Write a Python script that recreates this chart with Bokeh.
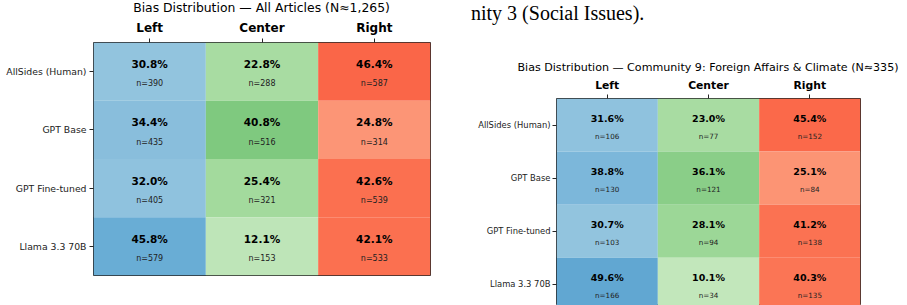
from bokeh.plotting import figure
from bokeh.layouts import row, column
from bokeh.models import ColumnDataSource, Range1d, FixedTicker, Div
from bokeh.palettes import Blues256, Greens256, Reds256
from bokeh.transform import linear_cmap
from bokeh.core.properties import value
from bokeh.embed import file_html
from bokeh.resources import INLINE

# ---------------- data ----------------
models = ["AllSides (Human)", "GPT Base", "GPT Fine-tuned", "Llama 3.3 70B"]
columns = ["Left", "Center", "Right"]

all_left_pct = [30.8, 34.4, 32.0, 45.8]
all_center_pct = [22.8, 40.8, 25.4, 12.1]
all_right_pct = [46.4, 24.8, 42.6, 42.1]
all_left_n = [390, 435, 405, 579]
all_center_n = [288, 516, 321, 153]
all_right_n = [587, 314, 539, 533]

c9_left_pct = [31.6, 38.8, 30.7, 49.6]
c9_center_pct = [23.0, 36.1, 28.1, 10.1]
c9_right_pct = [45.4, 25.1, 41.2, 40.3]
c9_left_n = [106, 130, 103, 166]
c9_center_n = [77, 121, 94, 34]
c9_right_n = [152, 84, 138, 135]

title_all = "Bias Distribution \u2014 All Articles (N\u22481,265)"
title_c9 = "Bias Distribution \u2014 Community 9: Foreign Affairs & Climate (N\u2248335)"
caption_text = "nity 3 (Social Issues)."

FONT = value("DejaVu Sans")
palettes = [tuple(reversed(Blues256)), tuple(reversed(Greens256)), tuple(reversed(Reds256))]


def heatmap(pcts, ns, width, height, borders, y_end, s, x_standoff):
    left, right, top, bottom = borders
    p = figure(width=width, height=height, output_backend="svg", toolbar_location=None,
               x_range=Range1d(0, 3), y_range=Range1d(y_end, 0),
               x_axis_location="above", min_border_left=left, min_border_right=right,
               min_border_top=top, min_border_bottom=bottom)
    p.grid.visible = False
    p.outline_line_color = "#262626"
    p.outline_line_width = 1
    p.background_fill_color = "white"
    p.border_fill_color = "white"

    for j, col in enumerate(columns):
        src = ColumnDataSource(dict(
            x=[j + 0.5] * len(models),
            y=[i + 0.5 for i in range(len(models))],
            ytop=[i + 0.5 - 0.13 for i in range(len(models))],
            ybot=[i + 0.5 + 0.21 for i in range(len(models))],
            pct=pcts[j],
            pct_lbl=[f"{v:.1f}%" for v in pcts[j]],
            n_lbl=[f"n={v}" for v in ns[j]],
        ))
        p.rect(x="x", y="y", width=1, height=1, source=src, line_color=None,
               fill_color=linear_cmap("pct", palettes[j], low=-30, high=120))
        p.text(x="x", y="ytop", text="pct_lbl", source=src, text_font=FONT,
               text_font_style="bold", text_font_size=f"{10.5*s:.1f}px",
               text_align="center", text_baseline="middle", text_color="#000000")
        p.text(x="x", y="ybot", text="n_lbl", source=src, text_font=FONT,
               text_font_size=f"{8.0*s:.1f}px",
               text_align="center", text_baseline="middle", text_color="#222222")

    xa = p.xaxis[0]
    xa.ticker = FixedTicker(ticks=[j + 0.5 for j in range(len(columns))])
    xa.major_label_overrides = {j + 0.5: c for j, c in enumerate(columns)}
    xa.major_label_text_font = "DejaVu Sans"
    xa.major_label_text_font_style = "bold"
    xa.major_label_text_font_size = f"{12*s:.1f}px"
    xa.major_label_text_color = "#000000"
    xa.major_label_standoff = x_standoff
    xa.minor_tick_line_color = None
    xa.axis_line_color = None
    xa.major_tick_in = 0
    xa.major_tick_out = 4
    xa.major_tick_line_color = "#262626"

    ya = p.yaxis[0]
    ya.ticker = FixedTicker(ticks=[i + 0.5 for i in range(len(models))])
    ya.major_label_overrides = {i + 0.5: m for i, m in enumerate(models)}
    ya.major_label_text_font = "DejaVu Sans"
    ya.major_label_text_font_size = f"{9.3*s:.1f}px"
    ya.major_label_text_color = "#222222"
    ya.major_label_standoff = int(3 * s)
    ya.minor_tick_line_color = None
    ya.axis_line_color = None
    ya.major_tick_in = 0
    ya.major_tick_out = 4
    ya.major_tick_line_color = "#262626"
    return p


def text_div(text, width, height, styles):
    base = {"font-family": "'DejaVu Sans', sans-serif", "color": "#000000",
            "white-space": "nowrap", "box-sizing": "border-box", "overflow": "visible"}
    base.update(styles)
    return Div(text=text, width=width, height=height, margin=(0, 0, 0, 0), styles=base)


# ---- left panel ----
t1 = text_div(title_all, 450, 17,
              {"font-size": "12.4px", "line-height": "15px", "text-align": "center",
               "padding-left": "93px", "padding-right": "20px"})
p1 = heatmap([all_left_pct, all_center_pct, all_right_pct],
             [all_left_n, all_center_n, all_right_n],
             450, 288, (93, 20, 23, 30), 4.0, 1.0, 4)

# ---- right panel ----
cap = text_div(caption_text, 457, 57,
               {"font-family": "'Liberation Serif', serif", "font-size": "20px",
                "padding-left": "21px", "padding-top": "2px", "line-height": "23px"})
t2 = text_div(title_c9, 457, 18,
              {"font-size": "11.1px", "line-height": "18px", "text-align": "center",
               "padding-left": "59px", "padding-top": "2px"})
p2 = heatmap([c9_left_pct, c9_center_pct, c9_right_pct],
             [c9_left_n, c9_center_n, c9_right_n],
             457, 230, (106, 47, 22, 0), 3.9, 0.9, 3)

layout = row(column(t1, p1, spacing=0), column(cap, t2, p2, spacing=0), spacing=0)
open("out.html", "w").write(file_html(layout, INLINE))
